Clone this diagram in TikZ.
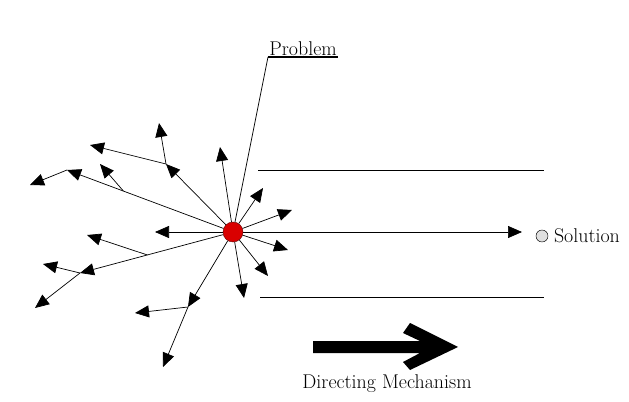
\documentclass[tikz,border=0pt]{standalone}
\usetikzlibrary{arrows.meta,calc,positioning}
\begin{document}
\begin{tikzpicture}[x=0.03cm, y=-0.03cm, line join=round, font=\fontsize{17}{20}\selectfont,
    >={Triangle[length=0.42cm,width=0.36cm]},
    ray/.style={->, line width=0.6pt}]
    \useasboundingbox (0,0) rectangle (629,402);
    \node[circle, fill=red!85!black, draw=red!40!black, inner sep=0pt, minimum size=0.6cm] (c) at (233,232) {};
    % tips of the rays
    \foreach \n/\x/\y in {u1/220/147, u2/263/188, u3/292/210, u4/288/250, u5/268/276, u6/244/298, w/155/232,
        a1/67/170, a2/30/185, d1/100/164, a3/166/164, d2/90/145, d3/159/123,
        a4/80/273, d4/87/235, d5/43/264, d6/35/308, a5/188/307, d7/135/313, d8/163/367}
        \coordinate (\n) at (\x,\y);
    \coordinate (b1) at ($(c)!0.66!(a1)$);
    \coordinate (b2) at ($(c)!0.56!(a4)$);
    \foreach \s/\t in {c/u1, c/u2, c/u3, c/u4, c/u5, c/u6, c/w, c/a1, a1/a2, b1/d1, c/a3, a3/d2, a3/d3,
        c/a4, b2/d4, a4/d5, a4/d6, c/a5, a5/d7, a5/d8}
        \draw[ray] (\s) -- (\t);
    % problem label
    \node[anchor=south west, inner sep=1pt] (prob) at (268,57) {Problem};
    \draw[line width=2pt] (prob.south west) -- (prob.south east);
    \draw[line width=0.6pt] (prob.south west) -- (c);
    % channel
    \draw[line width=0.6pt] (258,170) -- (544,170);
    \draw[line width=0.6pt] (260,297) -- (544,297);
    \node[circle, draw, fill=gray!25, inner sep=0pt, minimum size=0.36cm] (sol) at (542,236) {};
    \node[right=0.05cm of sol] (soltext) {Solution};
    \draw[ray, shorten >=0.6cm] (c) -- (c -| sol);
    % directing mechanism
    \fill (313,341) -- (420,341) -- (403,333) -- (410,323) -- (458,347) -- (410,370) -- (403,362) -- (420,353) -- (313,353) -- cycle;
    \node (dir) at (387,384) {Directing Mechanism};
\end{tikzpicture}
\end{document}
